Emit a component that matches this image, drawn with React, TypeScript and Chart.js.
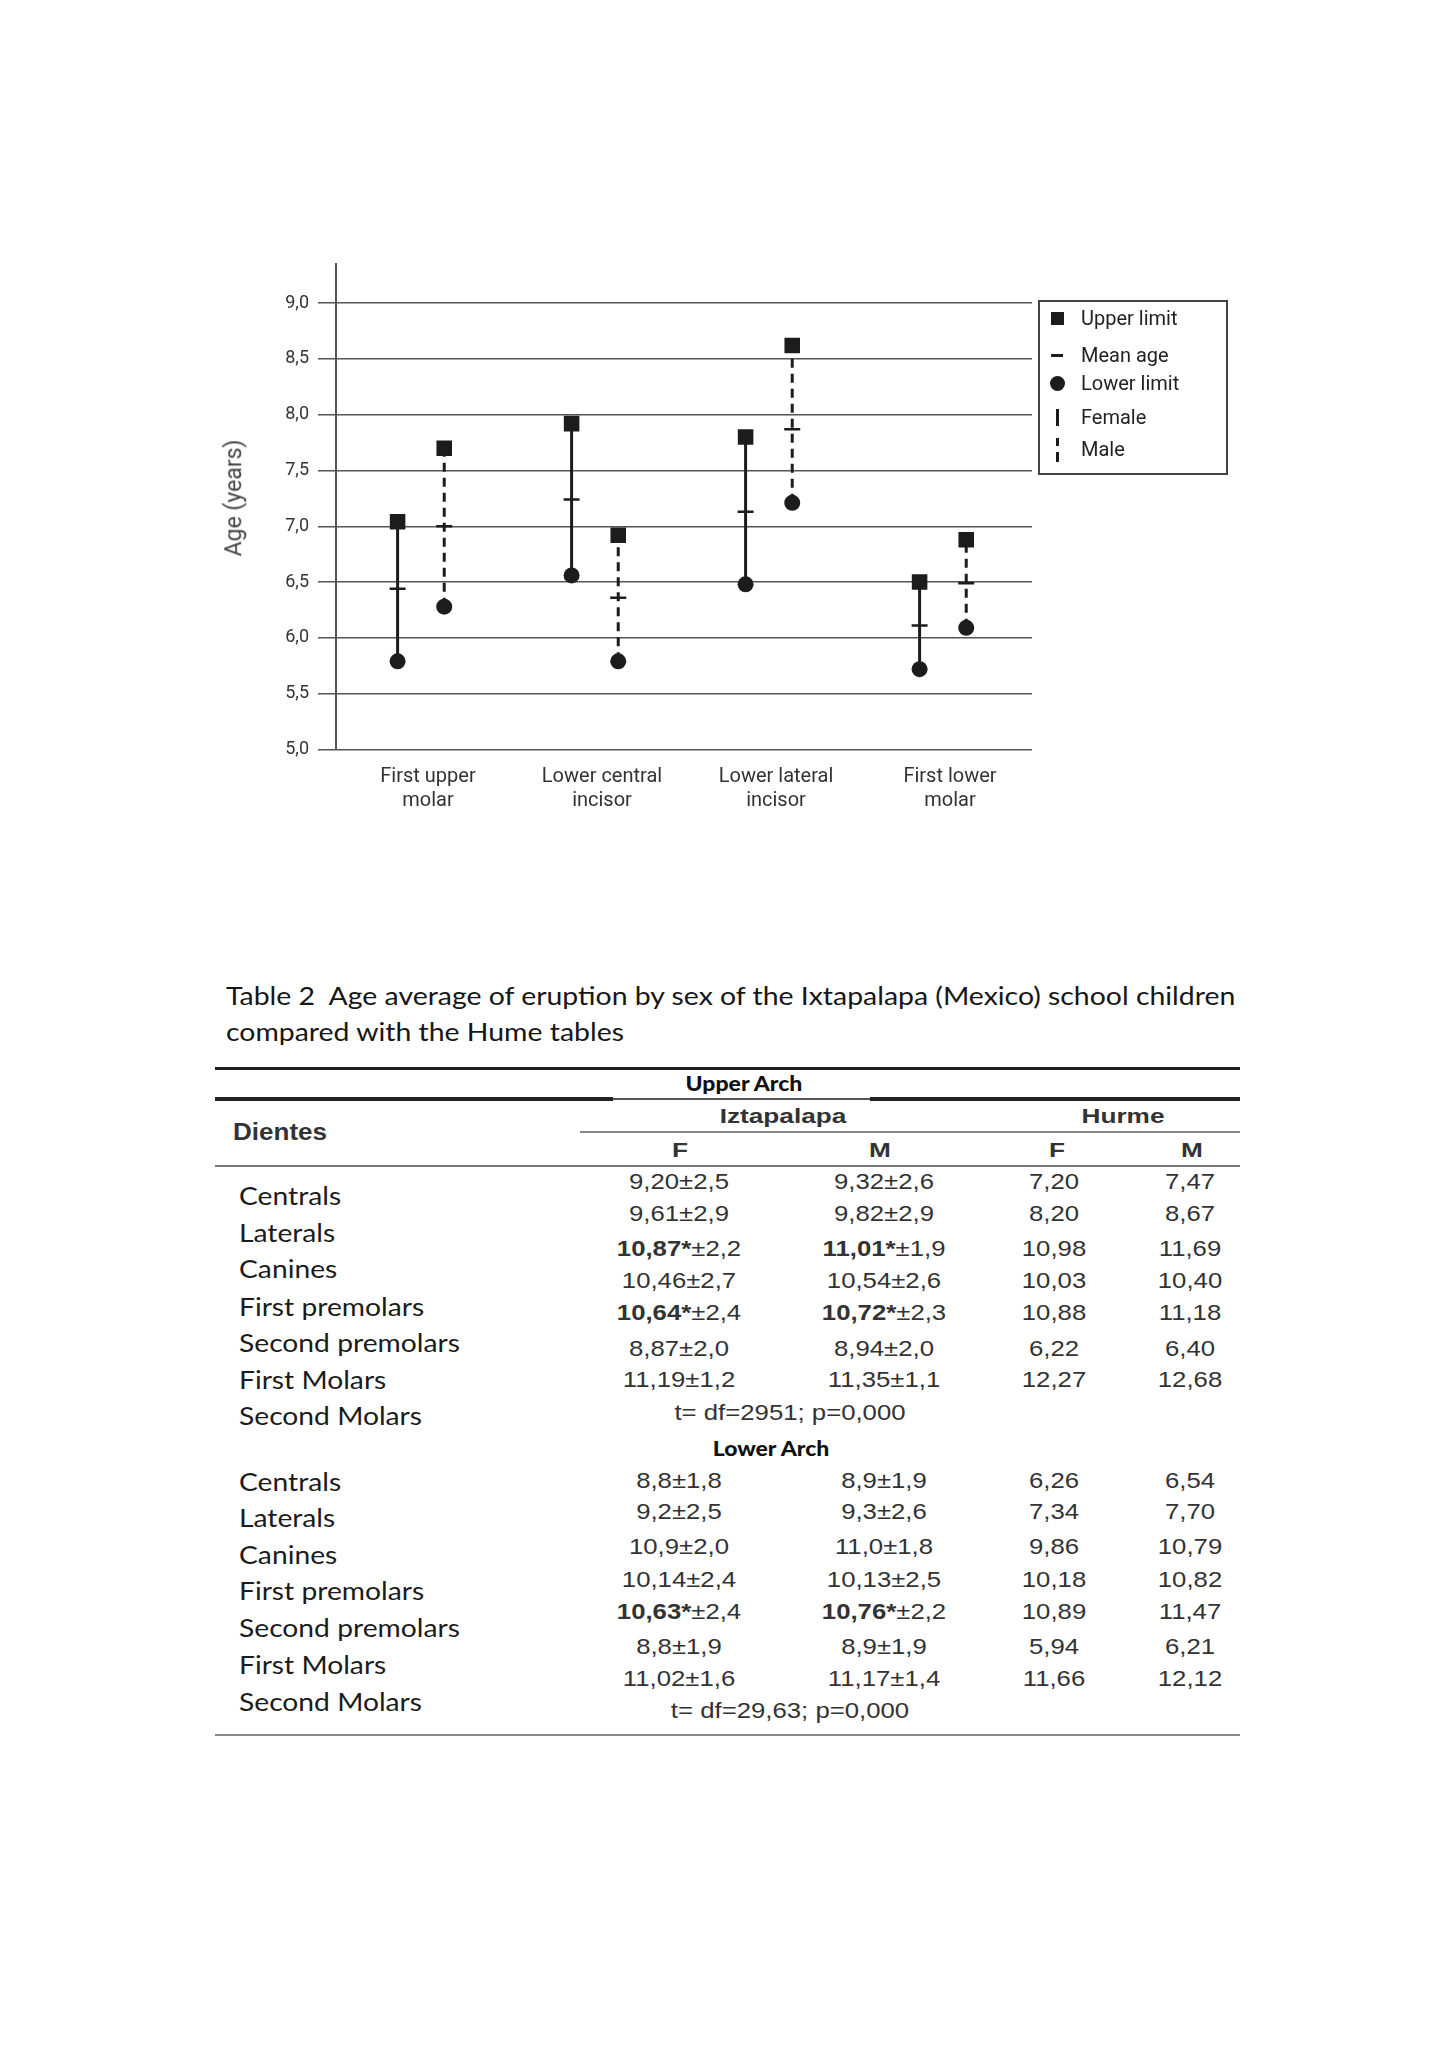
import React, { useEffect, useMemo, useRef } from 'react';
import { Chart, registerables } from 'chart.js';

Chart.register(...registerables);

// ---------------- Chart data ----------------
const categories: string[][] = [
  ['First upper', 'molar'],
  ['Lower central', 'incisor'],
  ['Lower lateral', 'incisor'],
  ['First lower', 'molar'],
];
const femaleUpper = [7.04, 7.92, 7.8, 6.5];
const femaleMean = [6.44, 7.24, 7.13, 6.11];
const femaleLower = [5.79, 6.56, 6.48, 5.72];
const maleUpper = [7.7, 6.92, 8.62, 6.88];
const maleMean = [7.0, 6.36, 7.87, 6.49];
const maleLower = [6.28, 5.79, 7.21, 6.09];
const yTickValues = [5.0, 5.5, 6.0, 6.5, 7.0, 7.5, 8.0, 8.5, 9.0];
const yAxisTitle = 'Age (years)';
const legendLabels = ['Upper limit', 'Mean age', 'Lower limit', 'Female', 'Male'];

// ---------------- Table data ----------------
const tableTitle1 = 'Table 2  Age average of eruption by sex of the Ixtapalapa (Mexico) school children';
const tableTitle2 = 'compared with the Hume tables';
const toothRows = ['Centrals', 'Laterals', 'Canines', 'First premolars', 'Second premolars', 'First Molars', 'Second Molars'];
const upperIztF = ['9,20±2,5', '9,61±2,9', '10,87*±2,2', '10,46±2,7', '10,64*±2,4', '8,87±2,0', '11,19±1,2'];
const upperIztM = ['9,32±2,6', '9,82±2,9', '11,01*±1,9', '10,54±2,6', '10,72*±2,3', '8,94±2,0', '11,35±1,1'];
const upperHurF = ['7,20', '8,20', '10,98', '10,03', '10,88', '6,22', '12,27'];
const upperHurM = ['7,47', '8,67', '11,69', '10,40', '11,18', '6,40', '12,68'];
const upperStat = 't= df=2951; p=0,000';
const lowerIztF = ['8,8±1,8', '9,2±2,5', '10,9±2,0', '10,14±2,4', '10,63*±2,4', '8,8±1,9', '11,02±1,6'];
const lowerIztM = ['8,9±1,9', '9,3±2,6', '11,0±1,8', '10,13±2,5', '10,76*±2,2', '8,9±1,9', '11,17±1,4'];
const lowerHurF = ['6,26', '7,34', '9,86', '10,18', '10,89', '5,94', '11,66'];
const lowerHurM = ['6,54', '7,70', '10,79', '10,82', '11,47', '6,21', '12,12'];
const lowerStat = 't= df=29,63; p=0,000';

const INK = '#1c1c1c';
const PAIR_OFFSET = 0.134;
const PAIR_SHIFT = -0.012;

function pointsAt(values: number[], side: number) {
  return values.map((y, i) => ({ x: i + 0.5 + PAIR_SHIFT + side * PAIR_OFFSET, y }));
}
function whiskers(lower: number[], upper: number[], side: number) {
  const out: any[] = [];
  lower.forEach((lo, i) => {
    const x = i + 0.5 + PAIR_SHIFT + side * PAIR_OFFSET;
    out.push({ x, y: lo }, { x, y: upper[i] }, { x, y: null });
  });
  return out;
}

function ErrorBarChart() {
  const ref = useRef<HTMLCanvasElement | null>(null);
  useEffect(() => {
    if (!ref.current) return;
    const chart = new Chart(ref.current, {
      type: 'scatter',
      data: {
        datasets: [
          {
            label: 'Upper limit',
            data: [...pointsAt(femaleUpper, -1), ...pointsAt(maleUpper, 1)],
            pointStyle: 'rect',
            pointRadius: 11,
            pointBackgroundColor: INK,
            pointBorderWidth: 0,
            order: 0,
          } as any,
          {
            label: 'Mean age',
            data: [...pointsAt(femaleMean, -1), ...pointsAt(maleMean, 1)],
            pointStyle: 'line',
            pointRadius: 8,
            pointBorderColor: INK,
            pointBorderWidth: 2.5,
            order: 0,
          } as any,
          {
            label: 'Lower limit',
            data: [...pointsAt(femaleLower, -1), ...pointsAt(maleLower, 1)],
            pointStyle: 'circle',
            pointRadius: 8,
            pointBackgroundColor: INK,
            pointBorderWidth: 0,
            order: 0,
          } as any,
          {
            type: 'line',
            label: 'Female',
            data: whiskers(femaleLower, femaleUpper, -1),
            borderColor: INK,
            borderWidth: 3,
            pointRadius: 0,
            showLine: true,
            spanGaps: false,
            order: 1,
          } as any,
          {
            type: 'line',
            label: 'Male',
            data: whiskers(maleLower, maleUpper, 1),
            borderColor: INK,
            borderWidth: 3,
            borderDash: [9, 6],
            pointRadius: 0,
            showLine: true,
            spanGaps: false,
            order: 1,
          } as any,
        ],
      },
      options: {
        animation: false,
        responsive: false,
        devicePixelRatio: 1,
        events: [],
        layout: { padding: { left: 220, top: 264, right: 418, bottom: 20.5 } },
        plugins: { legend: { display: false }, tooltip: { enabled: false } },
        scales: {
          x: {
            type: 'linear',
            min: 0,
            max: 4,
            afterBuildTicks: (s: any) => {
              s.ticks = categories.map((_, i) => ({ value: i + 0.5 }));
            },
            afterFit: (s: any) => {
              s.height = 90;
            },
            ticks: {
              autoSkip: false,
              maxRotation: 0,
              minRotation: 0,
              padding: 15,
              labelOffset: 5,
              color: '#333',
              font: { family: 'Roboto', size: 20 },
              callback: (_v: any, i: number) => categories[i],
            },
            grid: { display: false, drawTicks: false },
            border: { display: false },
          },
          y: {
            type: 'linear',
            min: 5,
            max: 9.35,
            afterBuildTicks: (s: any) => {
              s.ticks = yTickValues.map((v) => ({ value: v }));
            },
            afterFit: (s: any) => {
              s.width = 116;
            },
            ticks: {
              padding: 9,
              color: '#333',
              font: { family: 'Roboto', size: 18 },
              callback: (v: any) => Number(v).toFixed(1).replace('.', ','),
            },
            grid: { color: '#555', lineWidth: 1.5, tickLength: 18, drawTicks: true },
            border: { display: true, color: '#555', width: 2 },
            title: { display: false },
          },
        },
      } as any,
    });
    return () => chart.destroy();
  }, []);
  return (
    <>
      <canvas
        ref={ref}
        width={1450}
        height={860}
        style={{ position: 'absolute', left: 0, top: 0, width: 1450, height: 860 }}
      />
      <div
        style={{
          position: 'absolute',
          left: 234,
          top: 498,
          transform: 'translate(-50%, -50%) rotate(-90deg)',
          font: '23px Roboto',
          lineHeight: 1.2,
          color: '#444',
          whiteSpace: 'nowrap',
        }}
      >
        {yAxisTitle}
      </div>
    </>
  );
}

// ---------------- Legend (HTML) ----------------
function Legend() {
  const rowsY = [318, 355, 383, 417, 449];
  const symX = 1057;
  const sym = (i: number) => {
    const y = rowsY[i];
    const base: React.CSSProperties = { position: 'absolute', background: INK };
    if (i === 0) return <div style={{ ...base, left: symX - 6.5, top: y - 6.5, width: 13, height: 13 }} />;
    if (i === 1) return <div style={{ ...base, left: symX - 6, top: y - 1.5, width: 12, height: 3 }} />;
    if (i === 2) return <div style={{ ...base, left: symX - 7.5, top: y - 7.5, width: 15, height: 15, borderRadius: '50%' }} />;
    if (i === 3) return <div style={{ ...base, left: symX - 1.5, top: y - 8.5, width: 3, height: 17 }} />;
    return (
      <>
        <div style={{ ...base, left: symX - 1.5, top: y - 11, width: 3, height: 8 }} />
        <div style={{ ...base, left: symX - 1.5, top: y + 3, width: 3, height: 10 }} />
      </>
    );
  };
  return (
    <>
      <div
        style={{
          position: 'absolute',
          left: 1038,
          top: 300,
          width: 190,
          height: 175,
          boxSizing: 'border-box',
          border: '2px solid #444',
        }}
      />
      {legendLabels.map((t, i) => (
        <React.Fragment key={t}>
          {sym(i)}
          <div
            style={{
              position: 'absolute',
              left: 1081,
              top: rowsY[i],
              transform: 'translateY(-50%)',
              font: '20px Roboto',
              lineHeight: '24px',
              color: '#222',
              whiteSpace: 'nowrap',
            }}
          >
            {t}
          </div>
        </React.Fragment>
      ))}
    </>
  );
}

// ---------------- Table (HTML) ----------------
type TStyle = { font: string; color: string; scale: number };

function measureScale(font: string, text: string, width: number) {
  const ctx = document.createElement('canvas').getContext('2d')!;
  ctx.font = font;
  const w = ctx.measureText(text).width;
  return w > 0 ? width / w : 1;
}

function T(props: { x: number; y: number; st: TStyle; anchor?: 'left' | 'center'; children: React.ReactNode }) {
  const { x, y, st, anchor = 'center', children } = props;
  const left = anchor === 'left';
  return (
    <div
      style={{
        position: 'absolute',
        left: x,
        top: y,
        font: st.font,
        lineHeight: 1.2,
        color: st.color,
        whiteSpace: 'pre',
        transformOrigin: left ? '0 50%' : '50% 50%',
        transform: left ? `translateY(-50%) scaleX(${st.scale})` : `translate(-50%, -50%) scaleX(${st.scale})`,
      }}
    >
      {children}
    </div>
  );
}

function Num({ text }: { text: string }) {
  const idx = text.indexOf('±');
  if (idx > 0 && text.slice(0, idx).includes('*')) {
    return (
      <>
        <b style={{ fontWeight: 700 }}>{text.slice(0, idx)}</b>
        {text.slice(idx)}
      </>
    );
  }
  return <>{text}</>;
}

function HLine({ x1, x2, y, w, c }: { x1: number; x2: number; y: number; w: number; c: string }) {
  return <div style={{ position: 'absolute', left: x1, top: y - w / 2, width: x2 - x1, height: w, background: c }} />;
}

function Table() {
  const st = useMemo(() => {
    const fTitle = '25px Lato';
    const fRow = '25px Lato';
    const fArch = '900 21px Lato';
    const fHead = 'bold 21px "Liberation Sans"';
    const fDient = 'bold 23px "Liberation Sans"';
    const fNum = '22px "Liberation Sans"';
    return {
      title: { font: fTitle, color: '#161616', scale: measureScale(fTitle, tableTitle1, 1012) },
      row: { font: fRow, color: '#1b1b1b', scale: measureScale(fRow, 'Second Molars', 183) },
      arch: { font: fArch, color: '#111', scale: measureScale(fArch, 'Upper Arch', 118) },
      head: { font: fHead, color: '#333', scale: measureScale(fHead, 'Hurme', 83) },
      dient: { font: fDient, color: '#333', scale: measureScale(fDient, 'Dientes', 94) },
      num: { font: fNum, color: '#333', scale: measureScale(fNum, '9,32±2,6', 100) },
    };
  }, []);

  const colX = [679, 884, 1054, 1190];
  const upperNumY = [1182, 1214, 1249, 1281, 1313, 1349, 1380];
  const upperLabY = [1195, 1232, 1268, 1306, 1342, 1379, 1415];
  const lowerNumY = [1481, 1512, 1547, 1580, 1612, 1647, 1679];
  const lowerLabY = [1481, 1517, 1554, 1590, 1627, 1664, 1701];

  const block = (
    key: string,
    numY: number[],
    labY: number[],
    cols: string[][],
    stat: string,
    statY: number
  ) => (
    <React.Fragment key={key}>
      {toothRows.map((r, i) => (
        <T key={key + 'l' + i} x={239} y={labY[i]} st={st.row} anchor="left">
          {r}
        </T>
      ))}
      {cols.map((col, c) =>
        col.map((v, i) => (
          <T key={key + 'c' + c + '_' + i} x={colX[c]} y={numY[i]} st={st.num}>
            <Num text={v} />
          </T>
        ))
      )}
      <T x={790} y={statY} st={st.num}>
        {stat}
      </T>
    </React.Fragment>
  );

  return (
    <>
      <T x={226} y={995} st={st.title} anchor="left">
        {tableTitle1}
      </T>
      <T x={226} y={1031} st={st.title} anchor="left">
        {tableTitle2}
      </T>
      <HLine x1={215} x2={1240} y={1068} w={3} c="#1e1e1e" />
      <T x={744} y={1083} st={st.arch}>
        Upper Arch
      </T>
      <HLine x1={215} x2={613} y={1099} w={3.5} c="#222" />
      <HLine x1={613} x2={870} y={1099} w={2} c="#555" />
      <HLine x1={870} x2={1240} y={1099} w={3.5} c="#222" />
      <T x={783} y={1116} st={st.head}>
        Iztapalapa
      </T>
      <T x={1123} y={1116} st={st.head}>
        Hurme
      </T>
      <T x={233} y={1133} st={st.dient} anchor="left">
        Dientes
      </T>
      <HLine x1={580} x2={1240} y={1132} w={1.5} c="#888" />
      <T x={680} y={1150} st={st.head}>F</T>
      <T x={880} y={1150} st={st.head}>M</T>
      <T x={1057} y={1150} st={st.head}>F</T>
      <T x={1192} y={1150} st={st.head}>M</T>
      <HLine x1={215} x2={1240} y={1166} w={2} c="#777" />
      {block('u', upperNumY, upperLabY, [upperIztF, upperIztM, upperHurF, upperHurM], upperStat, 1413)}
      <T x={771} y={1448} st={st.arch}>
        Lower Arch
      </T>
      {block('l', lowerNumY, lowerLabY, [lowerIztF, lowerIztM, lowerHurF, lowerHurM], lowerStat, 1711)}
      <HLine x1={215} x2={1240} y={1735} w={2} c="#888" />
    </>
  );
}

export default function App() {
  return (
    <div
      style={{
        position: 'absolute',
        left: 0,
        top: 0,
        width: 1450,
        height: 2050,
        background: '#fff',
        overflow: 'hidden',
      }}
    >
      <ErrorBarChart />
      <Legend />
      <Table />
    </div>
  );
}
